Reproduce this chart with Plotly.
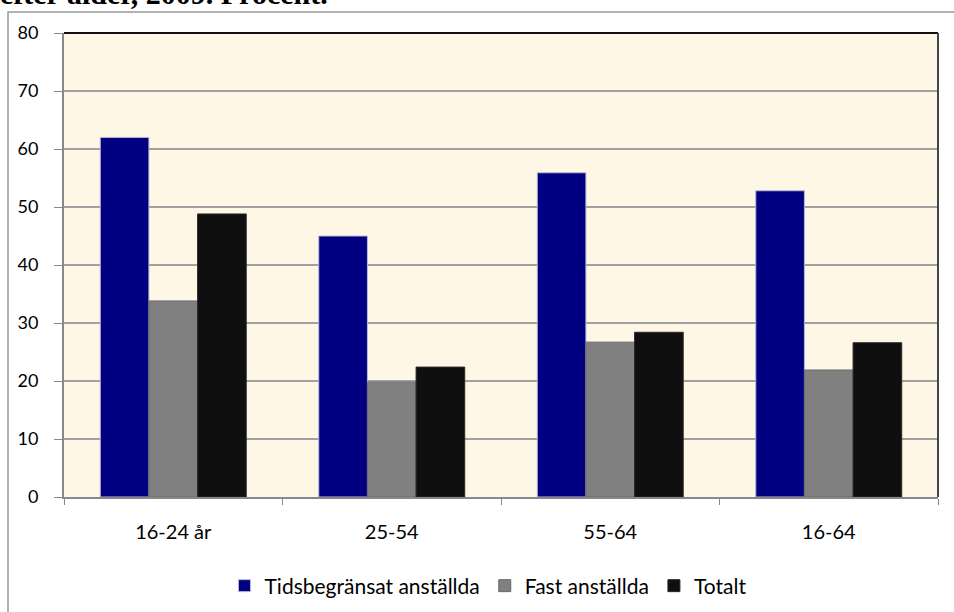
import plotly.graph_objects as go

categories = ["16-24 år", "25-54", "55-64", "16-64"]
series_names = ["Tidsbegränsat anställda", "Fast anställda", "Totalt"]
tidsbegransat = [62.0, 45.0, 55.9, 52.8]
fast = [33.8, 19.8, 26.7, 21.9]
totalt = [48.8, 22.4, 28.4, 26.6]
y_ticks = [0, 10, 20, 30, 40, 50, 60, 70, 80]
title_text = "efter ålder, 2009. Procent."

colors = ["#000080", "#808080", "#0F0F0F"]
edge_colors = ["#B8B8D8", "#6A6A6A", "#2A2A2A"]

fig = go.Figure()
for name, vals, c, ec in zip(series_names, [tidsbegransat, fast, totalt], colors, edge_colors):
    fig.add_trace(go.Bar(x=categories, y=vals, name=name,
                         marker=dict(color=c, line=dict(color=ec, width=1))))

W, H = 954, 612
L, R, T, B = 64, 938, 33, 497
pw, ph = R - L, B - T

def px_x(x):
    return (x - L) / pw

def px_y(y):
    return (B - y) / ph

fig.update_layout(
    width=W, height=H,
    margin=dict(l=L, r=W - R, t=T, b=H - B, autoexpand=False),
    paper_bgcolor="white",
    plot_bgcolor="#FFF7E5",
    barmode="group",
    bargap=0.332,
    bargroupgap=0,
    font=dict(family="Lato, sans-serif", size=16, color="#000000"),
    showlegend=True,
    legend=dict(orientation="h", x=px_x(488), xanchor="center", y=px_y(586), yanchor="middle",
                font=dict(size=21), itemwidth=30, tracegroupgap=0, bgcolor="rgba(0,0,0,0)"),
    xaxis=dict(showline=True, linecolor="#888888", linewidth=2, ticks="outside",
               tickcolor="#888888", ticklen=6, tickwidth=1, tickson="boundaries",
               tickfont=dict(size=20), showgrid=False, mirror=False,
               ticklabelstandoff=16),
    yaxis=dict(range=[0, 80], tickvals=y_ticks, showline=True, linecolor="#888888",
               linewidth=2, ticks="outside", tickcolor="#888888", ticklen=8,
               showgrid=True, gridcolor="#A0A0A0", gridwidth=1.5,
               tickfont=dict(size=18), zeroline=False, ticklabelstandoff=12),
    shapes=[
        dict(type="rect", xref="paper", yref="paper", x0=px_x(8), x1=px_x(1000),
             y0=px_y(700), y1=px_y(12), line=dict(color="#999999", width=1.5),
             fillcolor="rgba(0,0,0,0)", layer="below"),
        dict(type="line", xref="paper", yref="paper", x0=0, x1=1, y0=1, y1=1,
             line=dict(color="#111111", width=2)),
        dict(type="line", xref="paper", yref="paper", x0=1, x1=1, y0=0, y1=1,
             line=dict(color="#444444", width=2)),
    ],
    annotations=[
        dict(text="<b>" + title_text + "</b>", xref="paper", yref="paper",
             x=px_x(-2), xanchor="left", y=px_y(-6), yanchor="middle", showarrow=False,
             font=dict(family="Liberation Serif, serif", size=30, color="#000000")),
    ],
)

fig.write_html("out.html", config={"displayModeBar": False},
               post_script="document.body.style.margin='0px';")
